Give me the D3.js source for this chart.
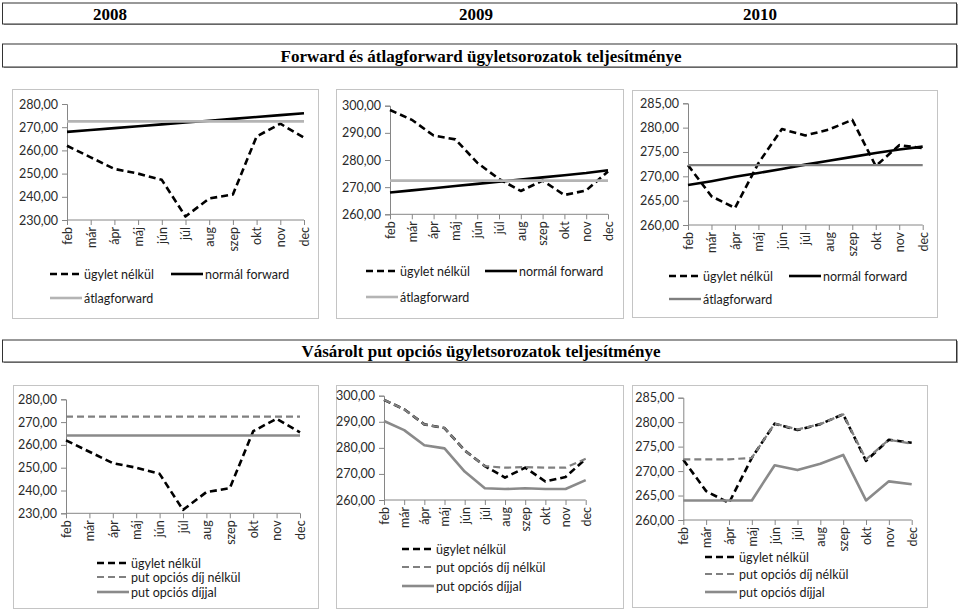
<!DOCTYPE html>
<html><head><meta charset="utf-8">
<script src="https://cdn.jsdelivr.net/npm/d3@7"></script>
<style>body{margin:0;background:#fff}svg{display:block}</style>
</head><body><svg id="c" width="960" height="612"></svg>
<script>
// ---------- DATA ----------
const months = ["feb","már","ápr","máj","jún","júl","aug","szep","okt","nov","dec"];
const years = ["2008","2009","2010"];
const title1 = "Forward és átlagforward ügyletsorozatok teljesítménye";
const title2 = "Vásárolt put opciós ügyletsorozatok teljesítménye";
const names1 = ["ügylet nélkül","normál forward","átlagforward"];
const names2 = ["ügylet nélkül","put opciós díj nélkül","put opciós díjjal"];

const ticks2008 = [230,240,250,260,270,280];
const ticks2009 = [260,270,280,290,300];
const ticks2010 = [260,265,270,275,280,285];

const spot2008 = [262,257,252,250,247.3,231.5,239.3,241,266,271.5,265.5];
const fwd2008  = [268,268.8,269.6,270.4,271.2,272,272.8,273.6,274.4,275.2,276];
const avg2008  = [272.5,272.5,272.5,272.5,272.5,272.5,272.5,272.5,272.5,272.5,272.5];
const putNoFee2008 = [272.4,272.4,272.4,272.4,272.4,272.4,272.4,272.4,272.4,272.4,272.4];
const putFee2008   = [264.1,264.1,264.1,264.1,264.1,264.1,264.1,264.1,264.1,264.1,264.1];

const spot2009 = [298.4,294.8,289,287.6,279,273,268.6,272.4,267.1,268.8,275.8];
const fwd2009  = [268,268.8,269.6,270.4,271.2,272,272.8,273.6,274.4,275.2,276.2];
const avg2009  = [272.4,272.4,272.4,272.4,272.4,272.4,272.4,272.4,272.4,272.4,272.4];
const putNoFee2009 = [298.4,294.8,289,287.6,279,273,272.4,272.6,272.4,272.4,275.8];
const putFee2009   = [290.3,286.8,281,279.8,270.9,264.5,264.2,264.5,264.2,264.2,267.6];

const spot2010 = [272.3,265.9,263.5,272.7,279.7,278.4,279.6,281.6,272.1,276.4,275.8];
const fwd2010  = [268.2,269,269.9,270.7,271.5,272.4,273.2,274,274.8,275.5,276.1];
const avg2010  = [272.3,272.3,272.3,272.3,272.3,272.3,272.3,272.3,272.3,272.3,272.3];
const putNoFee2010 = [272.4,272.4,272.4,272.7,279.7,278.5,279.6,281.6,272.4,276.4,275.6];
const putFee2010   = [264,264,264,264,271.2,270.2,271.5,273.3,264,267.9,267.3];

// ---------- DRAWING ----------
const svg = d3.select("#c");
const loc = d3.formatLocale({decimal:",", thousands:" ", grouping:[3], currency:["",""]});
const fmt = loc.format(".2f");
const FONT = "Lato, 'Open Sans', sans-serif";

function headerBox(y, h, texts) {
  const g = svg.append("g");
  g.append("rect").attr("x",4).attr("y",y+1).attr("width",954).attr("height",h).attr("fill","#999");
  g.append("rect").attr("x",2.5).attr("y",y).attr("width",954).attr("height",h)
    .attr("fill","#fff").attr("stroke","#333").attr("stroke-width",1);
  texts.forEach(t => g.append("text").attr("x",t.x).attr("y",y+h/2+6)
    .attr("text-anchor","middle").attr("font-family","'Liberation Serif','Times New Roman',serif")
    .attr("font-weight","bold").attr("font-size",17).attr("fill","#000").text(t.s));
}
headerBox(3, 21, [{x:110,s:years[0]},{x:476,s:years[1]},{x:760,s:years[2]}]);
headerBox(44, 23, [{x:481,s:title1}]);
headerBox(340, 22, [{x:481,s:title2}]);

const styles = {
  spot:{color:"#000",width:2.6,dash:"7,4"},
  fwd:{color:"#000",width:2.6,dash:null},
  avgLight:{color:"#b4b4b4",width:2.6,dash:null},
  avgDark:{color:"#7f7f7f",width:2.4,dash:null},
  putNo:{color:"#808080",width:2.2,dash:"7,4"},
  putFee:{color:"#8a8a8a",width:2.6,dash:null}
};

function panel(cfg) {
  const g = svg.append("g");
  g.append("rect").attr("x",cfg.box[0]+0.5).attr("y",cfg.box[1]+0.5)
    .attr("width",cfg.box[2]-cfg.box[0]).attr("height",cfg.box[3]-cfg.box[1])
    .attr("fill","#fff").attr("stroke","#c4c4c4").attr("stroke-width",1);
  const x = d3.scalePoint().domain(months).range([cfg.x0,cfg.x1]);
  const y = d3.scaleLinear().domain(cfg.domain).range([cfg.yb,cfg.yt]);
  // y axis
  const ya = g.append("g").attr("transform",`translate(${cfg.x0},0)`)
    .call(d3.axisLeft(y).tickValues(cfg.ticks).tickFormat(fmt).tickSize(5).tickPadding(4));
  ya.select(".domain").attr("stroke","#868686");
  ya.selectAll(".tick line").attr("stroke","#868686");
  ya.selectAll("text").attr("font-family",FONT).attr("font-size",12.5).attr("fill","#2a2a2a");
  // x axis
  const xa = g.append("g").attr("transform",`translate(0,${cfg.yb})`)
    .call(d3.axisBottom(x).tickSize(5).tickPadding(3));
  xa.select(".domain").attr("stroke","#868686").attr("d",`M${cfg.x0},0H${cfg.x1}`);
  xa.selectAll(".tick line").attr("stroke","#868686");
  xa.selectAll("text").attr("font-family",FONT).attr("font-size",12.5).attr("fill","#2a2a2a")
    .attr("transform","rotate(-90)").attr("text-anchor","end").attr("dy","0.35em")
    .attr("x",-7).attr("y",0);
  // lines
  const line = d3.line().x((d,i)=>x(months[i])).y(d=>y(d));
  cfg.series.forEach(s => {
    g.append("path").datum(s.values).attr("d",line).attr("fill","none")
      .attr("stroke",s.st.color).attr("stroke-width",s.st.width)
      .attr("stroke-dasharray",s.st.dash).attr("stroke-linejoin","round");
  });
  // legend
  cfg.legend.forEach(l => {
    g.append("line").attr("x1",l.x).attr("x2",l.x+32).attr("y1",l.y).attr("y2",l.y)
      .attr("stroke",l.st.color).attr("stroke-width",l.st.width).attr("stroke-dasharray",l.st.dash);
    g.append("text").attr("x",l.x+34).attr("y",l.y+4.5).attr("font-family",FONT)
      .attr("font-size",12.5).attr("fill","#1a1a1a").text(l.name);
  });
}

// Row 1
panel({box:[12,89,318,318], x0:67, x1:304, yt:104, yb:220, domain:[230,280], ticks:ticks2008,
  series:[{values:spot2008,st:styles.spot},{values:fwd2008,st:styles.fwd},{values:avg2008,st:styles.avgLight}],
  legend:[{name:names1[0],st:styles.spot,x:50,y:274},{name:names1[1],st:styles.fwd,x:171,y:274},{name:names1[2],st:styles.avgLight,x:50,y:298}]});
panel({box:[336,89,623,318], x0:390, x1:608, yt:105.7, yb:214.3, domain:[260,300], ticks:ticks2009,
  series:[{values:spot2009,st:styles.spot},{values:fwd2009,st:styles.fwd},{values:avg2009,st:styles.avgLight}],
  legend:[{name:names1[0],st:styles.spot,x:366,y:271},{name:names1[1],st:styles.fwd,x:485,y:271},{name:names1[2],st:styles.avgLight,x:366,y:297}]});
panel({box:[632,90,937,317], x0:688, x1:922.7, yt:103.3, yb:225, domain:[260,285], ticks:ticks2010,
  series:[{values:spot2010,st:styles.spot},{values:fwd2010,st:styles.fwd},{values:avg2010,st:styles.avgDark}],
  legend:[{name:names1[0],st:styles.spot,x:669,y:276},{name:names1[1],st:styles.fwd,x:789,y:276},{name:names1[2],st:styles.avgDark,x:669,y:299}]});

// Row 2
panel({box:[13,385,318,608], x0:66, x1:300, yt:399.3, yb:513.3, domain:[230,280], ticks:ticks2008,
  series:[{values:spot2008,st:styles.spot},{values:putNoFee2008,st:styles.putNo},{values:putFee2008,st:styles.putFee}],
  legend:[{name:names2[0],st:styles.spot,x:97,y:563},{name:names2[1],st:styles.putNo,x:97,y:577},{name:names2[2],st:styles.putFee,x:97,y:592}]});
panel({box:[336,385,623,608], x0:384, x1:585.7, yt:395.7, yb:500, domain:[260,300], ticks:ticks2009,
  series:[{values:spot2009,st:styles.spot},{values:putNoFee2009,st:styles.putNo},{values:putFee2009,st:styles.putFee}],
  legend:[{name:names2[0],st:styles.spot,x:402,y:549},{name:names2[1],st:styles.putNo,x:402,y:567},{name:names2[2],st:styles.putFee,x:402,y:586}]});
panel({box:[632,385,927,607], x0:683.3, x1:911.7, yt:397.7, yb:520, domain:[260,285], ticks:ticks2010,
  series:[{values:spot2010,st:styles.spot},{values:putNoFee2010,st:styles.putNo},{values:putFee2010,st:styles.putFee}],
  legend:[{name:names2[0],st:styles.spot,x:705,y:557},{name:names2[1],st:styles.putNo,x:705,y:574},{name:names2[2],st:styles.putFee,x:705,y:592}]});
</script>
</body></html>
